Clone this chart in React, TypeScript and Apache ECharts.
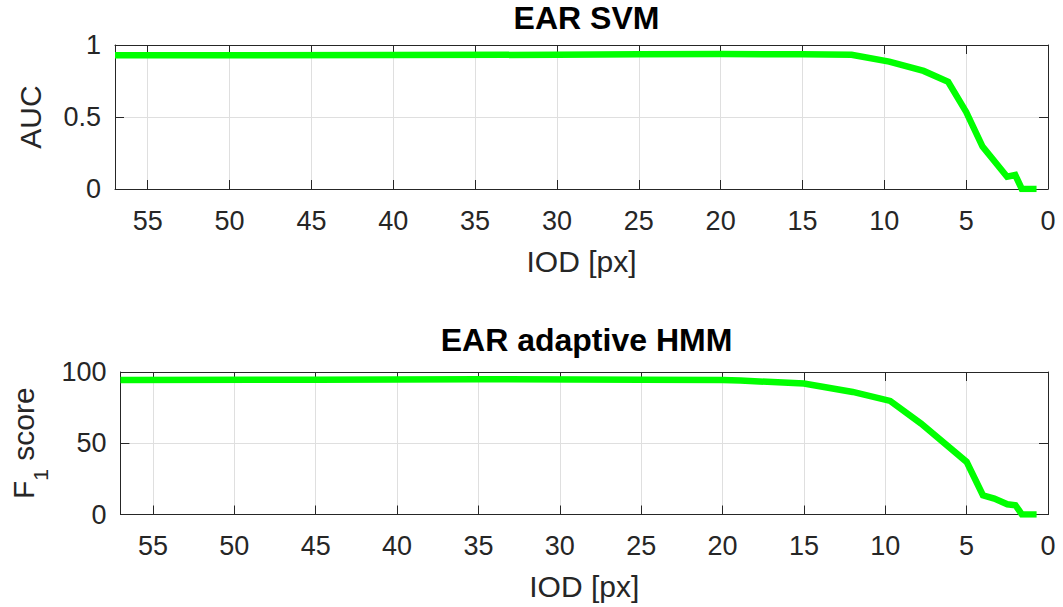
import React, { useEffect, useRef } from 'react';
import * as echarts from 'echarts';

// ---- data ----
const titles = ['EAR SVM', 'EAR adaptive HMM'];
const xLabel = 'IOD [px]';
const svmIod = [57, 50, 40, 30, 25, 20, 15, 12, 9.7, 7.6, 6.1, 5, 4, 2.5, 2, 1.6, 0.7];
const svmAuc = [0.928, 0.929, 0.93, 0.932, 0.935, 0.937, 0.936, 0.932, 0.885, 0.82, 0.745, 0.535, 0.295, 0.085, 0.097, 0, 0];
const hmmIod = [57, 45, 35, 25, 20, 18.9, 15, 12, 9.7, 7.8, 5, 4, 3.3, 2.5, 2, 1.6, 0.7];
const hmmF1 = [94.4, 94.6, 94.9, 94.6, 94.3, 94.0, 91.9, 86.0, 79.7, 63.8, 36.9, 13.5, 11.2, 7.2, 6.5, 0, 0];

const FONT = '"Liberation Sans", Arial, Helvetica, sans-serif';
const AX = '#262626';
const GRIDC = '#dfdfdf';
const GREEN = '#00ff00';

function xAxes(gridIndex: number) {
  const base: any = { type: 'value', gridIndex, min: 0, max: 57, interval: 5, inverse: true };
  return [
    {
      ...base,
      position: 'bottom',
      name: xLabel,
      nameLocation: 'middle',
      nameGap: 57,
      nameTextStyle: { fontFamily: FONT, fontSize: 30, color: AX },
      axisLine: { show: true, onZero: false, lineStyle: { color: AX, width: 1 } },
      axisTick: { show: true, inside: true, length: 9, lineStyle: { color: AX, width: 1 } },
      axisLabel: {
        show: true, margin: 18, fontFamily: FONT, fontSize: 27, color: AX,
        showMaxLabel: false,
        formatter: (v: number) => (v % 5 === 0 ? String(v) : ''),
      },
      splitLine: { show: true, lineStyle: { color: GRIDC, width: 1 } },
    },
    {
      ...base,
      position: 'top',
      axisLine: { show: true, onZero: false, lineStyle: { color: AX, width: 1 } },
      axisTick: { show: true, inside: true, length: 9, lineStyle: { color: AX, width: 1 } },
      axisLabel: { show: false },
      splitLine: { show: false },
    },
  ];
}

function yAxes(gridIndex: number, max: number, interval: number, name: string, nameGap: number, rich?: any) {
  const base: any = { type: 'value', gridIndex, min: 0, max, interval };
  return [
    {
      ...base,
      position: 'left',
      name,
      nameLocation: 'middle',
      nameGap,
      nameTextStyle: { fontFamily: FONT, fontSize: 30, color: AX, rich },
      axisLine: { show: true, onZero: false, lineStyle: { color: AX, width: 1 } },
      axisTick: { show: true, inside: true, length: 9, lineStyle: { color: AX, width: 1 } },
      axisLabel: { show: true, margin: 14, fontFamily: FONT, fontSize: 27, color: AX },
      splitLine: { show: true, lineStyle: { color: GRIDC, width: 1 } },
    },
    {
      ...base,
      position: 'right',
      axisLine: { show: true, onZero: false, lineStyle: { color: AX, width: 1 } },
      axisTick: { show: true, inside: true, length: 9, lineStyle: { color: AX, width: 1 } },
      axisLabel: { show: false },
      splitLine: { show: false },
    },
  ];
}

export default function App() {
  const ref = useRef<HTMLDivElement>(null);
  useEffect(() => {
    document.body.style.margin = '0';
    if (!ref.current) return;
    const chart = echarts.init(ref.current, undefined, { renderer: 'svg' });
    const titleStyle = { fontFamily: FONT, fontSize: 32, fontWeight: 'bold', color: '#000' };
    const option: any = {
      animation: false,
      backgroundColor: '#ffffff',
      title: [
        { text: titles[0], left: 581.5, top: -3, textAlign: 'center', textStyle: titleStyle },
        { text: titles[1], left: 581.5, top: 319, textAlign: 'center', textStyle: titleStyle },
      ],
      grid: [
        { left: 115, right: 15, top: 45, height: 144 },
        { left: 115, right: 15, top: 372, height: 142.5 },
      ],
      xAxis: [...xAxes(0), ...xAxes(1)],
      yAxis: [
        ...yAxes(0, 1, 0.5, 'AUC', 70),
        ...yAxes(1, 100, 50, 'F{s|1} score', 65, { s: { fontFamily: FONT, fontSize: 21, color: AX, padding: [34, 0, 0, 0] } }),
      ],
      series: [
        {
          type: 'line', xAxisIndex: 0, yAxisIndex: 0,
          data: svmIod.map((x, i) => [x, svmAuc[i]]),
          showSymbol: false, symbol: 'none',
          lineStyle: { color: GREEN, width: 6.5, cap: 'butt', join: 'miter' },
          z: 3,
        },
        {
          type: 'line', xAxisIndex: 2, yAxisIndex: 2,
          data: hmmIod.map((x, i) => [x, hmmF1[i]]),
          showSymbol: false, symbol: 'none',
          lineStyle: { color: GREEN, width: 6.5, cap: 'butt', join: 'miter' },
          z: 3,
        },
      ],
    };
    chart.setOption(option);
    return () => chart.dispose();
  }, []);
  return <div ref={ref} style={{ position: 'fixed', left: 0, top: 0, width: 1063, height: 607 }} />;
}
